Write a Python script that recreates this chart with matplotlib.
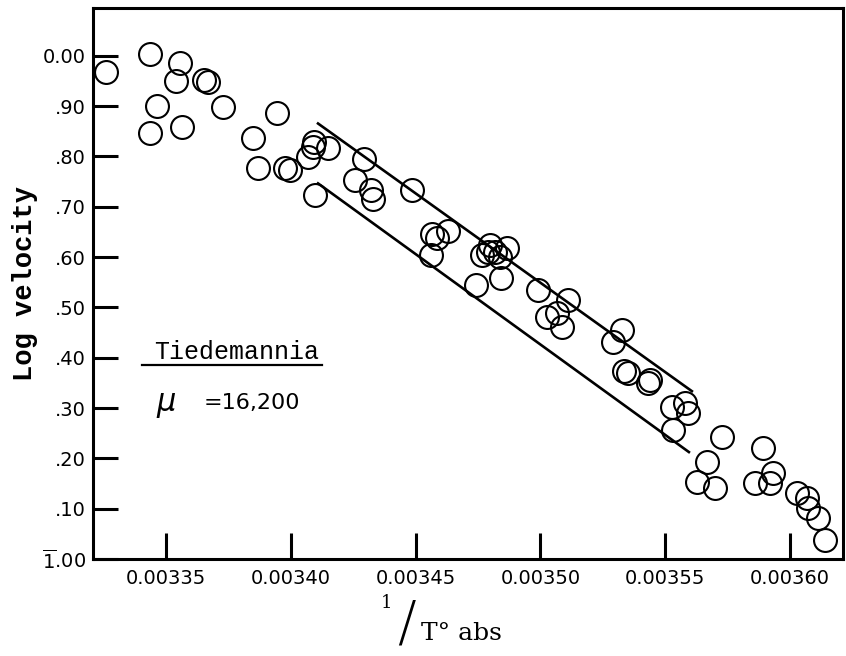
import matplotlib
matplotlib.use("Agg")
import matplotlib.pyplot as plt
from matplotlib.lines import Line2D

plt.rcParams['mathtext.fontset'] = 'dejavusans'

# ---- data ----
inv_T = [0.003326, 0.0033436, 0.0033556, 0.003354, 0.0033652, 0.0033668,
         0.0033464, 0.0033436, 0.0033564, 0.0033728, 0.0033849, 0.0033945,
         0.0033869, 0.0033977, 0.0033997, 0.0034069, 0.0034089, 0.0034093,
         0.0034149, 0.0034097, 0.0034293, 0.0034257, 0.0034321, 0.0034329,
         0.0034486, 0.0034566, 0.0034586, 0.003463, 0.0034562,
         0.0034766, 0.003479, 0.0034818, 0.0034838, 0.0034866, 0.0034798,
         0.0034842, 0.0034742, 0.003499, 0.003511, 0.0035066, 0.0035026,
         0.0035086, 0.0035327, 0.0035291, 0.0035335, 0.0035351, 0.0035431,
         0.0035439, 0.0035527, 0.0035579, 0.0035591, 0.0035531, 0.0035727,
         0.0035667, 0.0035627, 0.0035699, 0.0035892, 0.0035932, 0.003592,
         0.003586, 0.0036028, 0.0036068, 0.0036072, 0.0036112, 0.003614]
log_vel = [0.968, 1.004, 0.986, 0.950, 0.952, 0.948,
           0.901, 0.847, 0.859, 0.899, 0.837, 0.887,
           0.777, 0.777, 0.773, 0.799, 0.819, 0.829,
           0.817, 0.724, 0.795, 0.753, 0.734, 0.716,
           0.734, 0.646, 0.638, 0.652, 0.604,
           0.604, 0.610, 0.610, 0.600, 0.618, 0.624,
           0.559, 0.545, 0.535, 0.515, 0.489, 0.481,
           0.461, 0.455, 0.431, 0.374, 0.370, 0.350,
           0.356, 0.302, 0.310, 0.290, 0.256, 0.243,
           0.193, 0.153, 0.141, 0.221, 0.171, 0.151,
           0.151, 0.131, 0.121, 0.101, 0.082, 0.038]

upper_x = [0.0034105, 0.0035611]
upper_y = [0.867, 0.332]
lower_x = [0.0034105, 0.0035599]
lower_y = [0.748, 0.211]

xtick_vals = [0.00335, 0.00340, 0.00345, 0.00350, 0.00355, 0.00360]
xtick_labels = ["0.00335", "0.00340", "0.00345", "0.00350", "0.00355", "0.00360"]
ytick_vals = [0.0, 0.1, 0.2, 0.3, 0.4, 0.5, 0.6, 0.7, 0.8, 0.9, 1.0]
ytick_labels = [r"$\overline{\mathrm{1}}$.00", ".10", ".20", ".30", ".40", ".50",
                ".60", ".70", ".80", ".90", "0.00"]

species = "Tiedemannia"
mu_text = "=16,200"

# ---- figure ----
fig = plt.figure(figsize=(8.46, 6.56), dpi=100)
ax = fig.add_axes([93/846, 1-559/656, (843-93)/846, (559-8)/656])

ax.plot(inv_T, log_vel, linestyle='none', marker='o', markersize=16.5,
        markerfacecolor='none', markeredgecolor='black', markeredgewidth=1.5)
ax.plot(upper_x, upper_y, color='black', linewidth=1.9, solid_capstyle='butt')
ax.plot(lower_x, lower_y, color='black', linewidth=1.9, solid_capstyle='butt')

ax.set_xlim(0.0033208, 0.0036212)
ax.set_ylim(0.0, 1.095)

ax.set_xticks(xtick_vals)
ax.set_xticklabels(xtick_labels)
ax.set_yticks(ytick_vals)
ax.set_yticklabels(ytick_labels)

for s in ax.spines.values():
    s.set_linewidth(2.2)

ax.tick_params(axis='x', direction='in', length=19, width=2.2, pad=7,
               labelsize=14, top=False)
ax.tick_params(axis='y', direction='in', length=18, width=2.2, pad=5,
               labelsize=14, right=False)

ax.set_ylabel("Log velocity", family='Liberation Mono', fontweight='bold',
              fontsize=19.5, labelpad=3)

# x axis label  1/T° abs
fig.text(386/846, 1-603/656, "1", fontsize=13, family='DejaVu Serif',
         ha='center', va='center')
fig.text(406/846, 1-625/656, "/", fontsize=40, family='DejaVu Sans',
         ha='center', va='center', fontweight='light')
fig.text(421/846, 1-634/656, "T° abs", fontsize=18, family='DejaVu Serif',
         ha='left', va='center')

# annotation
fig.text(154/846, 1-352/656, species, fontsize=18, family='Liberation Mono',
         ha='left', va='center')
fig.add_artist(Line2D([142/846, 322/846], [1-365/656, 1-365/656],
                      color='black', linewidth=1.6, transform=fig.transFigure))
fig.text(156/846, 1-405/656, r"$\mu$", fontsize=22, ha='left', va='center',
         style='italic')
fig.text(204/846, 1-403/656, mu_text, fontsize=16, family='DejaVu Sans',
         ha='left', va='center')

fig.savefig("out.png", dpi=100)
